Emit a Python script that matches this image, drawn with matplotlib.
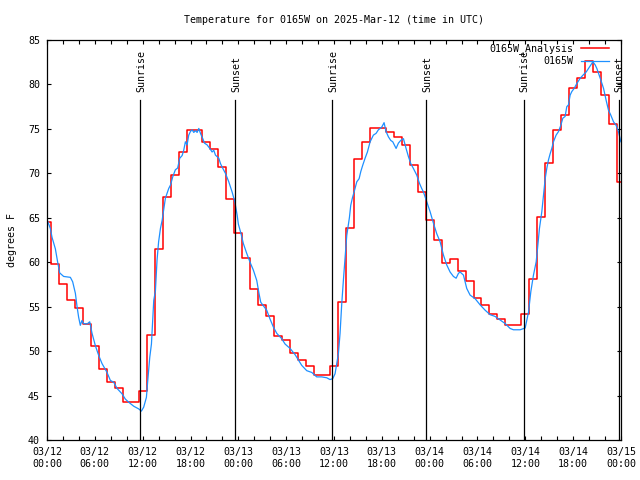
import numpy as np
import matplotlib
matplotlib.use('Agg')
import matplotlib.pyplot as plt

plt.rcParams['font.family'] = 'DejaVu Sans Mono'
plt.rcParams['font.size'] = 7.2

title = 'Temperature for 0165W on 2025-Mar-12 (time in UTC)'

# hourly analysis, hour 0 .. 72
analysis_temp = [64.5, 59.8, 57.6, 55.7, 54.9, 53.0, 50.6, 48.0, 46.55, 45.9,
                 44.3, 44.3, 45.5, 51.8, 61.5, 67.3, 69.8, 72.35, 74.9, 74.9,
                 73.5, 72.7, 70.7, 67.1, 63.3, 60.5, 57.0, 55.2, 53.9, 51.7,
                 51.3, 49.8, 49.0, 48.3, 47.3, 47.3, 48.3, 55.5, 63.8, 71.6,
                 73.55, 75.05, 75.05, 74.6, 74.1, 73.2, 70.9, 67.9, 64.8, 62.5,
                 59.9, 60.35, 59.0, 57.9, 56.0, 55.2, 54.2, 53.6, 52.9, 52.9,
                 54.2, 58.1, 65.1, 71.2, 74.9, 76.6, 79.55, 80.75, 82.6, 81.35,
                 78.8, 75.6, 69.0]

# observations (hours since 03/12 00:00)
obs_hour = [0.0, 0.42, 0.63, 1.05, 1.34, 1.59, 2.09, 2.93, 3.22, 3.56,
            3.77, 3.97, 4.18, 4.39, 4.6, 5.02, 5.36, 5.65, 6.07, 6.49,
            6.9, 7.53, 7.95, 8.37, 8.79, 9.41, 9.83, 10.25, 10.88, 11.5,
            11.84, 12.13, 12.47, 12.64, 12.89, 13.1, 13.39, 13.6, 13.8, 14.0,
            14.23, 14.44, 14.7, 14.85, 15.27, 15.5, 15.77, 16.1, 16.39, 16.65,
            16.95, 17.15, 17.36, 17.57, 17.78, 17.99, 18.2, 18.41, 18.62, 18.83,
            19.04, 19.25, 19.54, 19.75, 20.08, 20.42, 20.71, 20.92, 21.13, 21.55,
            21.76, 21.97, 22.38, 22.8, 23.22, 23.56, 23.85, 24.0, 24.34, 24.63,
            25.05, 25.47, 25.89, 26.31, 26.6, 26.81, 27.14, 27.56, 27.98, 28.4,
            28.82, 29.44, 29.86, 30.49, 31.12, 31.54, 31.95, 32.58, 33.21, 33.83,
            34.46, 35.09, 35.5, 35.84, 36.13, 36.34, 36.55, 36.76, 36.97, 37.18,
            37.39, 37.6, 37.93, 38.1, 38.3, 38.52, 38.86, 39.15, 39.36, 39.6,
            39.9, 40.19, 40.53, 40.94, 41.28, 41.57, 41.99, 42.28, 42.53, 42.83,
            43.12, 43.37, 43.79, 44.08, 44.37, 44.71, 45.04, 45.33, 45.63, 45.96,
            46.38, 46.71, 47.0, 47.22, 47.64, 48.05, 48.47, 48.89, 49.31, 49.73,
            50.14, 50.56, 50.98, 51.32, 51.61, 51.82, 52.24, 52.65, 53.07, 53.7,
            54.33, 54.96, 55.58, 56.21, 56.84, 57.47, 58.09, 58.51, 59.35, 59.98,
            60.4, 60.69, 61.02, 61.36, 61.53, 61.77, 62.07, 62.28, 62.49, 62.69,
            62.9, 63.11, 63.32, 63.53, 63.86, 64.16, 64.45, 64.7, 64.99, 65.2,
            65.41, 65.62, 65.83, 66.12, 66.46, 66.88, 67.29, 67.63, 67.93, 68.22,
            68.47, 68.76, 68.97, 69.18, 69.47, 69.81, 70.14, 70.43, 70.72, 71.06,
            71.39, 71.68, 71.98]
obs_temp = [64.8, 63.8, 62.8, 61.5, 60.0, 58.8, 58.4, 58.3, 57.8, 56.5,
            55.0, 53.8, 52.9, 53.45, 53.1, 53.05, 53.3, 52.0, 50.6, 49.5,
            48.6, 47.6, 46.7, 46.5, 45.8, 45.2, 44.6, 44.25, 43.8, 43.5,
            43.25, 43.7, 44.8, 46.7, 49.3, 50.8, 55.7, 56.8, 60.2, 62.3,
            63.8, 64.7, 66.3, 67.2, 68.3, 68.7, 69.6, 70.4, 70.6, 71.7,
            72.0, 72.6, 73.55, 73.2, 74.3, 74.7, 74.9, 74.6, 74.8, 74.6,
            75.05, 74.5, 73.9, 73.4, 73.2, 72.8, 72.4, 72.6, 72.05, 71.7,
            71.1, 70.7, 70.0, 69.05, 67.9, 66.8, 65.3, 64.3, 63.2, 62.1,
            61.0, 60.0, 59.1, 57.95, 56.45, 55.5, 55.1, 54.6, 53.6, 52.7,
            52.0, 51.4, 50.8, 50.3, 49.6, 49.0, 48.4, 47.8, 47.6, 47.1,
            47.1, 47.0, 46.8, 46.9, 47.45, 48.6, 49.7, 52.0, 55.3, 58.0,
            60.5, 63.0, 65.0, 66.4, 67.2, 67.9, 69.05, 69.4, 70.2, 70.9,
            71.7, 72.4, 73.55, 74.3, 74.5, 74.9, 75.2, 75.7, 74.7, 74.1,
            73.7, 73.55, 72.8, 73.4, 73.7, 73.9, 72.8, 71.9, 71.1, 70.55,
            69.8, 68.9, 68.3, 67.9, 66.8, 65.7, 64.4, 63.2, 62.3, 60.8,
            59.7, 58.9, 58.4, 58.2, 58.75, 58.9, 58.55, 57.05, 56.3, 55.9,
            55.2, 54.6, 54.1, 53.9, 53.5, 53.1, 52.55, 52.4, 52.4, 52.6,
            54.4, 56.7, 58.55, 60.05, 61.55, 63.8, 65.7, 67.55, 69.4, 70.55,
            71.5, 72.2, 72.8, 73.55, 74.3, 74.7, 75.4, 76.2, 76.4, 77.5,
            77.7, 78.8, 79.2, 79.55, 80.1, 80.7, 81.1, 81.4, 81.8, 82.2,
            82.55, 82.2, 81.8, 81.25, 80.5, 79.55, 78.2, 77.1, 76.55, 75.8,
            75.4, 74.7, 73.55]

sun_hour = [11.72, 23.55, 35.75, 47.6, 59.78, 71.7]
sun_label = ['Sunrise', 'Sunset', 'Sunrise', 'Sunset', 'Sunrise', 'Sunset']

tick_labels = ['03/12\n00:00', '03/12\n06:00', '03/12\n12:00', '03/12\n18:00',
               '03/13\n00:00', '03/13\n06:00', '03/13\n12:00', '03/13\n18:00',
               '03/14\n00:00', '03/14\n06:00', '03/14\n12:00', '03/14\n18:00',
               '03/15\n00:00']

fig = plt.figure(figsize=(6.4, 4.8), dpi=100)
ax = fig.add_axes([47 / 640, 40 / 480, 574 / 640, 400 / 480])

ax.plot(np.arange(len(analysis_temp)), analysis_temp, drawstyle='steps-mid',
        color='red', lw=1.1, label='0165W_Analysis')
ax.plot(obs_hour, obs_temp, color='#1e90ff', lw=0.9, label='0165W')

for h, name in zip(sun_hour, sun_label):
    ax.plot([h, h], [40, 78.3], color='black', lw=0.9)
    ax.text(h + 0.15, 79.1, name, rotation=90, ha='center', va='bottom')

ax.set_xlim(0, 72)
ax.set_ylim(40, 85)
ax.set_xticks(np.arange(0, 73, 6))
ax.set_xticklabels(tick_labels)
ax.set_xticks(np.arange(0, 73, 2), minor=True)
ax.set_yticks(np.arange(40, 86, 5))
ax.tick_params(which='both', direction='in', top=True, right=True,
               length=3.2, width=0.8)
ax.tick_params(axis='x', pad=5)
ax.tick_params(axis='y', pad=5)
for s in ax.spines.values():
    s.set_linewidth(0.9)

ax.legend(loc='upper right', bbox_to_anchor=(0.979, 0.992), frameon=False,
          markerfirst=False, handlelength=2.8, handletextpad=0.8,
          labelspacing=0.2, borderpad=0, borderaxespad=0)

fig.text(334 / 640, 1 - 20 / 480, title, ha='center', va='center')
fig.text(12 / 640, 240 / 480, 'degrees F', rotation=90, ha='center', va='center')

fig.savefig('out.png', dpi=100)
